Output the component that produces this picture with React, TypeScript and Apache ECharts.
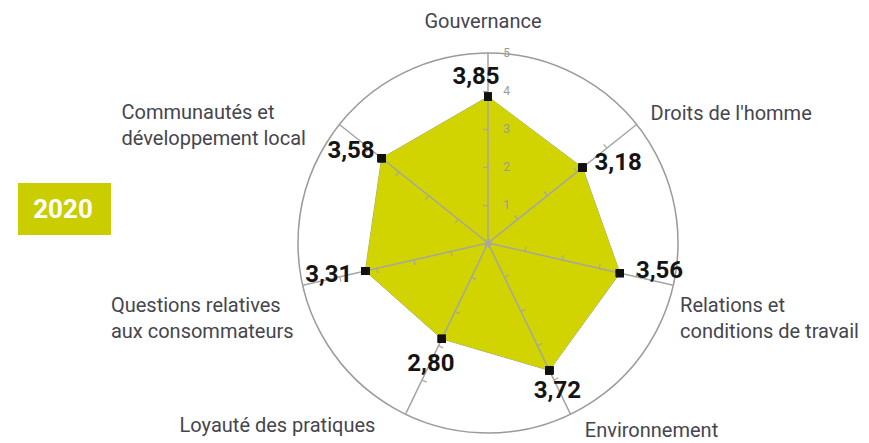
import React, { useEffect, useRef } from "react";
import * as echarts from "echarts";

// Categories in clockwise order starting from the top
const categories = [
  "Gouvernance",
  "Droits de l'homme",
  "Relations et\nconditions de travail",
  "Environnement",
  "Loyauté des pratiques",
  "Questions relatives\naux consommateurs",
  "Communautés et\ndéveloppement local",
];
const values = [3.85, 3.18, 3.56, 3.72, 2.8, 3.31, 3.58];
const maxValue = 5;
const tickLabels = ["", "1", "2", "3", "4", "5"];
const yearLabel = "2020";

const FONT = "Roboto, 'Liberation Sans', sans-serif";
const NAME_COLOR = "#45454f";
const FILL = "#d1d400";

// name placement tweaks (clockwise order)
const nameLayout: any[] = [
  { gap: 19, style: { padding: [0, 10, 0, 0] } },
  { gap: 18, style: {} },
  { gap: 7, style: { verticalAlign: "top", padding: [5, 0, 0, 0] } },
  { gap: 17, style: { padding: [0, 0, 0, 7] } },
  { gap: 12, style: { padding: [0, 25, 0, 0] } },
  { gap: 7, style: { verticalAlign: "top", padding: [5, 9, 0, 0] } },
  { gap: 0, style: { padding: [0, 42, 0, 0] } },
];
// value label placement (clockwise order)
const labelLayout: any[] = [
  { position: "top", distance: 5, offset: [-12, 0] },
  { position: "right", distance: 8, offset: [0, -6] },
  { position: "right", distance: 12, offset: [0, -3] },
  { position: "bottom", distance: 4, offset: [8, 0] },
  { position: "bottom", distance: 8, offset: [-11, 0] },
  { position: "left", distance: 9, offset: [0, 3] },
  { position: "left", distance: 3, offset: [0, -8] },
];

const fmt = (v: number) => v.toFixed(2).replace(".", ",");

export default function App() {
  const ref = useRef<HTMLDivElement>(null);
  useEffect(() => {
    if (!ref.current) return;
    const chart = echarts.init(ref.current, undefined, { renderer: "svg" });
    const n = categories.length;
    // ECharts places indicators counter-clockwise; map to clockwise order
    const order = Array.from({ length: n }, (_, j) => (n - j) % n);
    const indicator = order.map((k) => ({
      name: categories[k],
      min: 0,
      max: maxValue,
      nameGap: nameLayout[k].gap,
      nameTextStyle: { ...nameLayout[k].style },
      ...(k === 0
        ? {
            axisLabel: {
              show: true,
              color: "#9a9a9a",
              fontSize: 12,
              fontFamily: FONT,
              margin: -22,
              formatter: (v: number) => tickLabels[Math.round(v)] ?? "",
            },
          }
        : {}),
    }));
    const ordered = order.map((k) => values[k]);

    const areaItem = {
      value: ordered,
      symbol: "none",
      lineStyle: { color: "#a0a070", width: 1 },
      areaStyle: { color: FILL, opacity: 1 },
      label: { show: false },
    };
    const labelItems = values.map((val, k) => ({
      value: ordered,
      symbol: "rect",
      symbolSize: 8,
      itemStyle: { color: "#111" },
      lineStyle: { width: 0, opacity: 0 },
      label: {
        show: true,
        position: labelLayout[k].position,
        distance: labelLayout[k].distance,
        offset: labelLayout[k].offset,
        fontFamily: FONT,
        fontWeight: "bold",
        fontSize: 24,
        color: "#141414",
        formatter: (p: any) => (p.value === val ? fmt(val) : ""),
      },
    }));

    chart.setOption({
      animation: false,
      radar: {
        z: 3,
        center: [488, 243],
        radius: 190,
        startAngle: 90,
        splitNumber: 5,
        shape: "circle",
        indicator,
        axisName: {
          color: NAME_COLOR,
          fontFamily: FONT,
          fontSize: 20,
          lineHeight: 26,
          formatter: (name: string) =>
            name.includes("\n")
              ? name
                  .split("\n")
                  .map((l) => `{l|${l}}`)
                  .join("\n")
              : name,
          rich: {
            l: {
              width: 176,
              align: "left",
              fontFamily: FONT,
              fontSize: 20,
              lineHeight: 26,
              color: NAME_COLOR,
            },
          },
        },
        axisLine: { lineStyle: { color: "#a5a5a5", width: 1.5 } },
        axisTick: { show: true, length: 5, lineStyle: { color: "#a5a5a5", width: 1.2 } },
        axisLabel: { show: false },
        splitLine: {
          lineStyle: {
            color: ["rgba(0,0,0,0)", "rgba(0,0,0,0)", "rgba(0,0,0,0)", "rgba(0,0,0,0)", "rgba(0,0,0,0)", "#9a9a9a"],
            width: 1.5,
          },
        },
        splitArea: { show: false },
      },
      series: [
        {
          type: "radar",
          z: 2,
          data: [areaItem],
        },
        {
          type: "radar",
          z: 4,
          data: labelItems,
        },
      ],
      graphic: [
        {
          type: "rect",
          left: 18,
          top: 183,
          shape: { width: 93, height: 52 },
          style: { fill: "#cacd00" },
        },
        {
          type: "text",
          x: 63,
          y: 209,
          style: {
            text: yearLabel,
            fill: "#ffffff",
            font: `bold 26px ${FONT}`,
            align: "center",
            verticalAlign: "middle",
          },
        },
      ],
    });
    return () => chart.dispose();
  }, []);
  return (
    <div
      ref={ref}
      style={{ position: "fixed", left: 0, top: 0, width: 869, height: 443, background: "#fff" }}
    />
  );
}
